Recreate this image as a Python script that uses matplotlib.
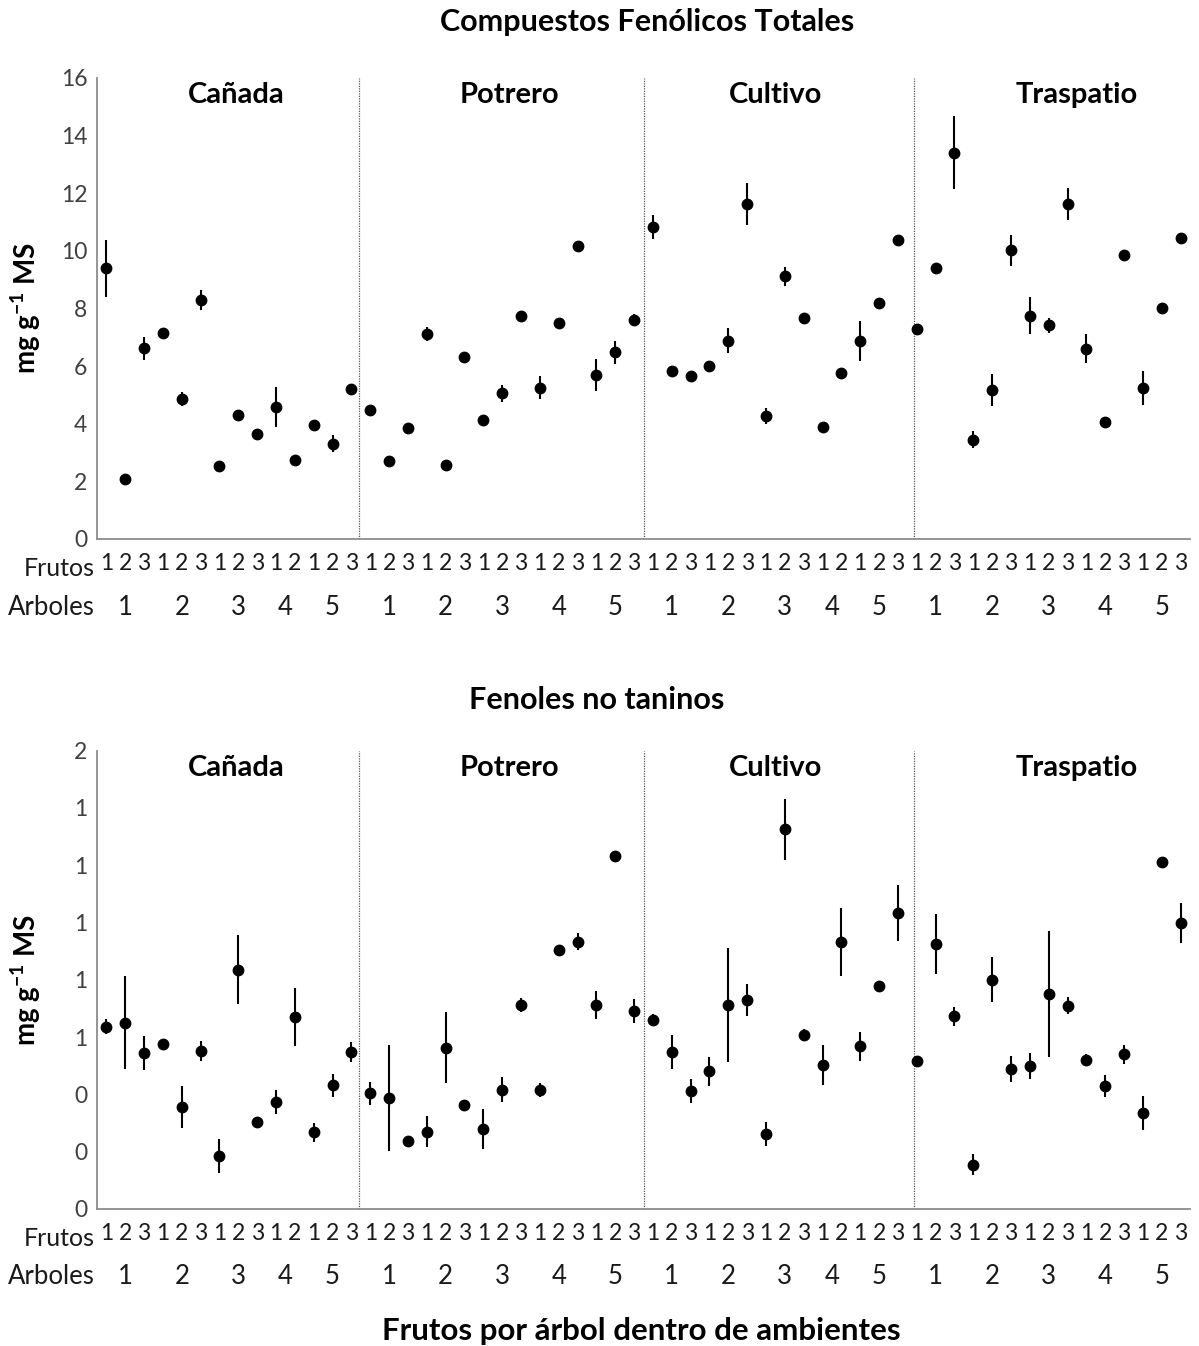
import matplotlib
matplotlib.use("Agg")
import matplotlib.pyplot as plt
import numpy as np
from matplotlib.ticker import FormatStrFormatter

plt.rcParams['font.family'] = ['Lato', 'DejaVu Sans']
plt.rcParams['mathtext.fontset'] = 'custom'
plt.rcParams['mathtext.rm'] = 'Lato'
plt.rcParams['mathtext.bf'] = 'Lato:bold'

# ambientes y numero de frutos por arbol
ambientes = ["Cañada", "Potrero", "Cultivo", "Traspatio"]
frutos_por_arbol = [[3, 3, 3, 2, 3], [3, 3, 3, 3, 3], [3, 3, 3, 2, 3], [3, 3, 3, 3, 3]]

# Compuestos fenolicos totales (mg g-1 MS)
cft_canada = [9.39, 2.07, 6.61, 7.16, 4.85, 8.28, 2.53, 4.29, 3.65, 4.57, 2.74, 3.97, 3.30, 5.22]
cft_potrero = [4.46, 2.70, 3.85, 7.12, 2.55, 6.33, 4.13, 5.06, 7.75, 5.25, 7.48, 10.18, 5.69, 6.48, 7.60]
cft_cultivo = [10.82, 5.84, 5.66, 6.01, 6.88, 11.62, 4.26, 9.11, 7.68, 3.90, 5.76, 6.88, 8.19, 10.38]
cft_traspatio = [7.28, 9.39, 13.41, 3.45, 5.17, 10.02, 7.75, 7.41, 11.62, 6.60, 4.05, 9.86, 5.24, 8.00, 10.43]
cft_err_canada = [1.0, 0.1, 0.4, 0.1, 0.25, 0.35, 0.05, 0.15, 0.05, 0.7, 0.05, 0.1, 0.3, 0.1]
cft_err_potrero = [0.2, 0.05, 0.15, 0.25, 0.05, 0.05, 0.1, 0.3, 0.05, 0.4, 0.05, 0.05, 0.55, 0.4, 0.2]
cft_err_cultivo = [0.42, 0.05, 0.05, 0.15, 0.43, 0.72, 0.28, 0.33, 0.05, 0.05, 0.05, 0.7, 0.05, 0.05]
cft_err_traspatio = [0.05, 0.05, 1.28, 0.3, 0.56, 0.54, 0.65, 0.25, 0.55, 0.5, 0.05, 0.05, 0.58, 0.05, 0.05]

# Fenoles no taninos (mg g-1 MS)
fnt_canada = [0.637, 0.651, 0.544, 0.576, 0.355, 0.553, 0.185, 0.835, 0.303, 0.373, 0.670, 0.267, 0.432, 0.548]
fnt_potrero = [0.404, 0.388, 0.239, 0.270, 0.563, 0.362, 0.279, 0.416, 0.712, 0.416, 0.904, 0.933, 0.712, 1.233, 0.692]
fnt_cultivo = [0.660, 0.548, 0.411, 0.480, 0.712, 0.728, 0.263, 1.325, 0.608, 0.504, 0.933, 0.568, 0.780, 1.033]
fnt_traspatio = [0.516, 0.925, 0.672, 0.155, 0.801, 0.488, 0.500, 0.749, 0.709, 0.520, 0.429, 0.540, 0.335, 1.210, 0.997]
fnt_err_canada = [0.025, 0.163, 0.06, 0.01, 0.073, 0.035, 0.058, 0.12, 0.01, 0.042, 0.1, 0.034, 0.04, 0.035]
fnt_err_potrero = [0.04, 0.185, 0.01, 0.054, 0.123, 0.01, 0.07, 0.043, 0.026, 0.025, 0.01, 0.03, 0.05, 0.01, 0.042]
fnt_err_cultivo = [0.02, 0.058, 0.042, 0.05, 0.2, 0.056, 0.042, 0.105, 0.02, 0.07, 0.118, 0.05, 0.015, 0.097]
fnt_err_traspatio = [0.01, 0.105, 0.033, 0.037, 0.078, 0.045, 0.045, 0.22, 0.03, 0.02, 0.037, 0.034, 0.058, 0.015, 0.07]

cft = cft_canada + cft_potrero + cft_cultivo + cft_traspatio
cft_err = cft_err_canada + cft_err_potrero + cft_err_cultivo + cft_err_traspatio
fnt = fnt_canada + fnt_potrero + fnt_cultivo + fnt_traspatio
fnt_err = fnt_err_canada + fnt_err_potrero + fnt_err_cultivo + fnt_err_traspatio

# etiquetas de frutos y centro de cada arbol
fruto_labels = []
arbol_pos = []
arbol_labels = []
i = 0
for amb in frutos_por_arbol:
    for t, nf in enumerate(amb):
        fruto_labels += [str(k + 1) for k in range(nf)]
        arbol_pos.append(i + (nf - 1) / 2.0)
        arbol_labels.append(str(t + 1))
        i += nf
n = len(fruto_labels)
x = np.arange(n)

divisiones = [13.41, 28.53, 42.84]
amb_label_x = [6.9, 21.4, 35.5, 51.5]
gris = '#8c8c8c'
texto = '#1a1a1a'

fig = plt.figure(figsize=(11.99, 13.46), dpi=100)
ax1 = fig.add_axes([0.0809, 0.5996, 0.9116, 0.3425])
ax2 = fig.add_axes([0.0809, 0.1018, 0.9116, 0.3405])


def panel(ax, vals, errs, ymax, yticks, fmt):
    ax.errorbar(x, vals, yerr=errs, fmt='o', color='black', ms=7.5,
                elinewidth=1.5, capsize=0)
    ax.set_xlim(-0.5, n - 0.5)
    ax.set_ylim(0, ymax)
    ax.set_yticks(yticks)
    ax.yaxis.set_major_formatter(FormatStrFormatter(fmt))
    ax.set_xticks(x)
    ax.set_xticklabels(fruto_labels)
    ax.tick_params(axis='x', length=0, pad=10, labelsize=16.5, labelcolor=texto)
    ax.tick_params(axis='y', length=0, pad=7, labelsize=16.5, labelcolor='#404040')
    for s in ['top', 'right']:
        ax.spines[s].set_visible(False)
    for s in ['left', 'bottom']:
        ax.spines[s].set_color(gris)
        ax.spines[s].set_linewidth(1.3)
    for d in divisiones:
        ax.axvline(d, color='#555555', lw=0.9, ls=(0, (1, 1)))
    for lab, lx in zip(ambientes, amb_label_x):
        ax.text(lx, 0.963, lab, transform=ax.get_xaxis_transform(), ha='center',
                va='center', fontsize=21, fontweight='bold', color='black')
    trans = ax.get_xaxis_transform()
    ax.text(-0.6, -0.064, 'Frutos', transform=trans, ha='right', va='center',
            fontsize=18, color=texto)
    ax.text(-0.6, -0.148, 'Arboles', transform=trans, ha='right', va='center',
            fontsize=18.5, color=texto)
    for p, lab in zip(arbol_pos, arbol_labels):
        ax.text(p, -0.148, lab, transform=trans, ha='center', va='center',
                fontsize=18.5, color=texto)
    ax.set_ylabel('mg g$^{\\mathbf{-1}}$ MS', fontsize=20, fontweight='bold')
    ax.yaxis.set_label_coords(-0.049, 0.5)


panel(ax1, cft, cft_err, 16, np.arange(0, 17, 2), '%.0f')
panel(ax2, fnt, fnt_err, 1.6, np.arange(0, 1.61, 0.2), '%.0f')

fig.text(0.54, 0.9837, 'Compuestos Fenólicos Totales', ha='center', va='center',
         fontsize=22, fontweight='bold')
fig.text(0.498, 0.48, 'Fenoles no taninos', ha='center', va='center',
         fontsize=22, fontweight='bold')
fig.text(0.535, 0.0111, 'Frutos por árbol dentro de ambientes', ha='center', va='center',
         fontsize=22.5, fontweight='bold')

fig.savefig('out.png', dpi=100, facecolor='white')
